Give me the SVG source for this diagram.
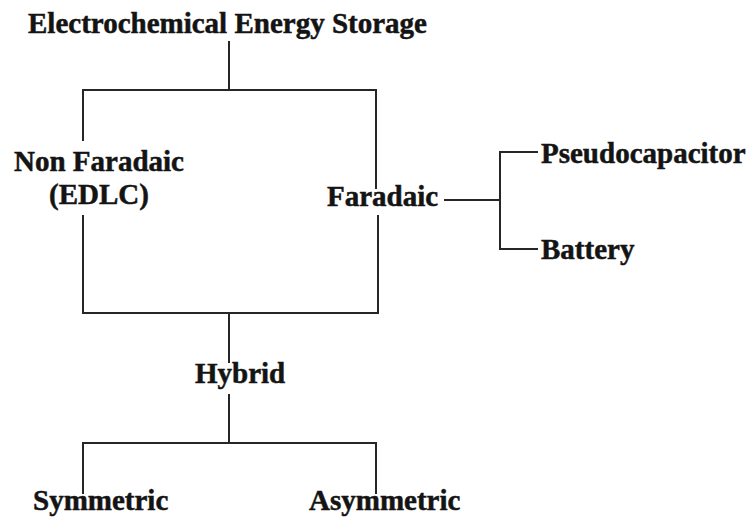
<svg xmlns="http://www.w3.org/2000/svg" width="748" height="517" viewBox="0 0 748 517">
<style>
.t{font-family:"Liberation Serif","Times New Roman",serif;font-weight:bold;font-size:29px;fill:#141414;stroke:#141414;stroke-width:0.5}
.c{fill:none;stroke:#262626;stroke-width:2;stroke-linecap:square}
</style>
<rect width="748" height="517" fill="#fff"/>
<g id="connectors">
<path class="c" d="M229 42V90M83 90H376M83 90V140M376 90V188"/>
<path class="c" d="M83 216V313H378V216M229 313V362"/>
<path class="c" d="M445 200H500M537 152H500V249H537"/>
<path class="c" d="M229 395V443M83 493V443H376V493"/>
</g>
<g id="n-ees"><text class="t" x="28" y="33">Electrochemical Energy Storage</text></g>
<g id="n-nonfaradaic"><text class="t" x="99" y="171" text-anchor="middle">Non Faradaic</text><text class="t" x="99" y="204" text-anchor="middle">(EDLC)</text></g>
<g id="n-faradaic"><text class="t" x="327" y="206">Faradaic</text></g>
<g id="n-pseudo"><text class="t" x="541" y="163">Pseudocapacitor</text></g>
<g id="n-battery"><text class="t" x="541" y="259">Battery</text></g>
<g id="n-hybrid"><text class="t" x="195" y="383">Hybrid</text></g>
<g id="n-sym"><text class="t" x="33" y="510">Symmetric</text></g>
<g id="n-asym"><text class="t" x="309" y="510">Asymmetric</text></g>
</svg>
